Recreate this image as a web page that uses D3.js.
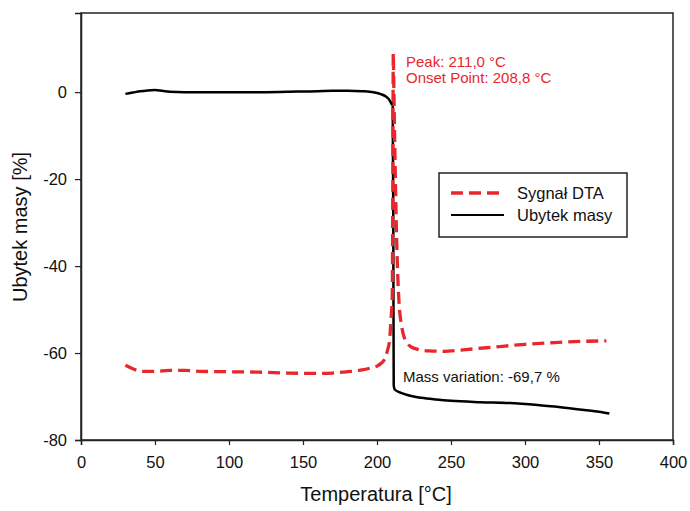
<!DOCTYPE html>
<html><head><meta charset="utf-8">
<script src="https://cdn.jsdelivr.net/npm/d3@7"></script>
<style>body{margin:0;background:#fff}svg{display:block;font-family:"Liberation Sans",Arial,sans-serif}</style>
</head><body><svg id="c" width="690" height="511"></svg>
<script>
const xTicks = [0,50,100,150,200,250,300,350,400];
const yTicks = [0,-20,-40,-60,-80];
const massT = [30,35,40,45,50,55,60,70,80,100,120,140,160,170,180,190,195,200,203,206,208,209,210,210.6,211,211.3,212,215,220,230,240,250,270,290,300,310,320,330,340,350,357];
const massV = [-0.4,-0.1,0.2,0.4,0.5,0.3,0.1,0,0,0,0,0.1,0.2,0.3,0.3,0.2,0.1,-0.2,-0.5,-1,-1.6,-2.2,-2.8,-2.2,-30,-67.5,-68.4,-69,-69.6,-70.3,-70.7,-71,-71.3,-71.5,-71.7,-72,-72.3,-72.7,-73.1,-73.5,-73.9];
const dtaT = [30,35,40,50,60,70,80,100,120,140,160,170,180,190,195,200,203,205,207,208.5,209.5,210.3,210.7,211,211.2,212,213,214,215,216.5,218,220,223,228,235,245,260,280,300,320,340,355];
const dtaV = [-62.8,-63.6,-64.2,-64.2,-64,-64,-64.2,-64.3,-64.4,-64.6,-64.7,-64.6,-64.3,-63.9,-63.5,-63,-62.3,-61.5,-59.5,-57,-52,-47,-20,9,5,-12,-30,-42,-49,-53.5,-56,-57.5,-58.6,-59.2,-59.5,-59.6,-59.2,-58.6,-58,-57.6,-57.3,-57.2];
const seriesNames = ["Sygnał DTA","Ubytek masy"];

const svg = d3.select("#c");
const L=81,R=673,T=13,B=440;
const x = d3.scaleLinear().domain([0,400]).range([L,R]);
const y = d3.scaleLinear().domain([-80,18.2]).range([B,T]);

svg.append("rect").attr("x",L).attr("y",T).attr("width",R-L).attr("height",B-T)
  .attr("fill","none").attr("stroke","#222").attr("stroke-width",1.5);

const gx = svg.append("g").attr("transform",`translate(0,${B})`)
  .call(d3.axisBottom(x).tickValues(xTicks).tickSize(5).tickPadding(11).tickFormat(d3.format("d")));
const gy = svg.append("g").attr("transform",`translate(${L},0)`)
  .call(d3.axisLeft(y).tickValues(yTicks).tickSize(6).tickPadding(8));
[gx,gy].forEach(g=>{
  g.select(".domain").attr("stroke","#222").attr("stroke-width",1.5);
  g.selectAll(".tick line").attr("stroke","#222").attr("stroke-width",1.2);
  g.selectAll(".tick text").attr("font-size",16.5).attr("fill","#111").attr("font-family","'Liberation Sans',Arial,sans-serif");
});
gy.selectAll(".tick text").text(d=>String(d));

const line = d3.line().x(d=>x(d[0])).y(d=>y(d[1])).curve(d3.curveMonotoneX);
svg.append("path").datum(massT.map((t,i)=>[t,massV[i]])).attr("d",line)
  .attr("fill","none").attr("stroke","#000").attr("stroke-width",2.5);
svg.append("path").datum(dtaT.map((t,i)=>[t,dtaV[i]])).attr("d",line)
  .attr("fill","none").attr("stroke","#e8272c").attr("stroke-width",3.3).attr("stroke-dasharray","12,6");

// annotations
svg.append("text").attr("x",406).attr("y",67).attr("font-size",15).attr("fill","#e8272c").text("Peak: 211,0 °C");
svg.append("text").attr("x",406).attr("y",83).attr("font-size",15).attr("fill","#e8272c").text("Onset Point: 208,8 °C");
svg.append("text").attr("x",403).attr("y",382).attr("font-size",15).attr("fill","#111").text("Mass variation: -69,7 %");

// legend
svg.append("rect").attr("x",439).attr("y",173).attr("width",188).attr("height",64)
  .attr("fill","#fff").attr("stroke","#222").attr("stroke-width",1.5);
svg.append("line").attr("x1",451).attr("x2",501).attr("y1",193).attr("y2",193)
  .attr("stroke","#e8272c").attr("stroke-width",3.3).attr("stroke-dasharray","12,6");
svg.append("line").attr("x1",451).attr("x2",504).attr("y1",215).attr("y2",215)
  .attr("stroke","#000").attr("stroke-width",1.8);
svg.append("text").attr("x",517).attr("y",199).attr("font-size",16.5).attr("fill","#111").text(seriesNames[0]);
svg.append("text").attr("x",517).attr("y",221).attr("font-size",16.5).attr("fill","#111").text(seriesNames[1]);

// axis titles
svg.append("text").attr("x",376).attr("y",501).attr("text-anchor","middle").attr("font-size",20).attr("fill","#111").text("Temperatura [°C]");
svg.append("text").attr("transform","translate(27,227) rotate(-90)").attr("text-anchor","middle").attr("font-size",20).attr("fill","#111").text("Ubytek masy [%]");
</script></body></html>
